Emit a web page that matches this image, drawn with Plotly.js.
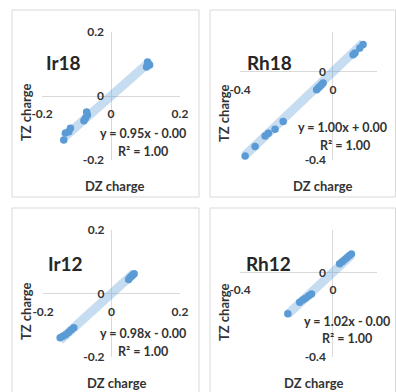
<!DOCTYPE html>
<html>
<head>
<meta charset="utf-8">
<script src="https://cdn.plot.ly/plotly-3.0.1.min.js"></script>
<style>html,body{margin:0;padding:0;background:#fff;}#chart{width:396px;height:392px;}</style>
</head>
<body>
<div id="chart"></div>
<script>
// ---- data ----
const panelNames = ["Ir18", "Rh18", "Ir12", "Rh12"];

const dzIr18 = [0.106, 0.112, 0.103, 0.109, -0.0706, -0.0685, -0.0735, -0.0785, -0.1176, -0.1226, -0.132, -0.137];
const tzIr18 = [0.106, 0.097, 0.091, 0.100, -0.050, -0.059, -0.069, -0.077, -0.101, -0.1116, -0.116, -0.1375];

const dzRh18 = [0.130, 0.116, 0.095, 0.087, -0.042, -0.049, -0.056, -0.063, -0.070, -0.214, -0.249, -0.278, -0.292, -0.335, -0.378];
const tzRh18 = [0.123, 0.108, 0.085, 0.077, -0.051, -0.059, -0.067, -0.074, -0.082, -0.226, -0.261, -0.279, -0.291, -0.339, -0.382];

const dzIr12 = [0.050, 0.054, 0.058, 0.062, 0.066, -0.110, -0.118, -0.126, -0.134, -0.142, -0.150];
const tzIr12 = [0.044, 0.050, 0.054, 0.058, 0.062, -0.108, -0.115, -0.123, -0.130, -0.135, -0.139];

const dzRh12 = [0.029, 0.040, 0.050, 0.060, 0.070, 0.080, -0.092, -0.105, -0.118, -0.130, -0.143, -0.194];
const tzRh12 = [0.040, 0.050, 0.060, 0.069, 0.078, 0.087, -0.102, -0.112, -0.122, -0.131, -0.141, -0.196];

const slopes = [0.95, 1.00, 0.98, 1.02];
const intercepts = [0.00, 0.00, 0.00, 0.00];
const equations = ["y = 0.95x - 0.00", "y = 1.00x + 0.00", "y = 0.98x - 0.00", "y = 1.02x - 0.00"];
const r2Labels = ["R² = 1.00", "R² = 1.00", "R² = 1.00", "R² = 1.00"];

const irTickVals = [-0.2, 0, 0.2];
const irTickText = ["-0.2", "0", "0.2"];
const rhTickVals = [-0.4, 0];
const rhTickText = ["-0.4", "0"];

const xTitle = "DZ charge";
const yTitle = "TZ charge";

// ---- layout helpers ----
const W = 396, H = 392;
const px = v => v / W;
const py = v => 1 - v / H;

const dzAll = [dzIr18, dzRh18, dzIr12, dzRh12];
const tzAll = [tzIr18, tzRh18, tzIr12, tzRh12];

const panels = [
  {xd: [42, 180], yd: [32, 160], xr: [-0.2, 0.2], yr: [-0.2, 0.2], tv: irTickVals, tt: irTickText,
   name: [63, 63], eq: [143, 133], r2: [143, 151], yt: [26, 112], xt: [114, 186], box: [12, 10, 199, 197]},
  {xd: [240, 377], yd: [32, 160], xr: [-0.4, 0.19], yr: [-0.4, 0.18], tv: rhTickVals, tt: rhTickText,
   name: [269, 63], eq: [342, 128], r2: [345, 145], yt: [224, 113], xt: [322, 186], box: [210, 10, 395.5, 197]},
  {xd: [43, 180], yd: [230, 357], xr: [-0.2, 0.2], yr: [-0.2, 0.2], tv: irTickVals, tt: irTickText,
   name: [65, 263], eq: [143, 333], r2: [143, 351], yt: [26, 311], xt: [116, 383], box: [12, 208, 199, 400]},
  {xd: [240, 377], yd: [230, 357], xr: [-0.4, 0.19], yr: [-0.4, 0.2], tv: rhTickVals, tt: rhTickText,
   name: [268, 263], eq: [347, 321], r2: [347, 338], yt: [224, 312], xt: [313, 383], box: [210, 208, 395.5, 400]}
];

const FONT = "Lato, 'Open Sans', sans-serif";
const TXT = "#333333";
const traces = [];
const layout = {
  width: W, height: H,
  margin: {l: 0, r: 0, t: 0, b: 0},
  paper_bgcolor: "#ffffff", plot_bgcolor: "rgba(0,0,0,0)",
  showlegend: false, hovermode: false,
  shapes: [], annotations: []
};

panels.forEach((p, i) => {
  const n = i + 1;
  const xa = n === 1 ? "x" : "x" + n;
  const ya = n === 1 ? "y" : "y" + n;
  const xKey = n === 1 ? "xaxis" : "xaxis" + n;
  const yKey = n === 1 ? "yaxis" : "yaxis" + n;
  const xDom = [px(p.xd[0]), px(p.xd[1])];
  const yDom = [py(p.yd[1]), py(p.yd[0])];
  const xZero = xDom[0] + (0 - p.xr[0]) / (p.xr[1] - p.xr[0]) * (xDom[1] - xDom[0]);
  const yZero = yDom[0] + (0 - p.yr[0]) / (p.yr[1] - p.yr[0]) * (yDom[1] - yDom[0]);
  const tickfont = {family: FONT, size: 12, color: TXT, weight: "bold"};

  layout[xKey] = {
    domain: xDom, range: p.xr, anchor: "free", position: yZero,
    tickmode: "array", tickvals: p.tv, ticktext: p.tt,
    showgrid: true, gridcolor: "#D9D9D9", gridwidth: 1,
    zeroline: false, showline: false, ticks: "", tickfont: tickfont,
    ticklabelstandoff: 9, fixedrange: true
  };
  layout[yKey] = {
    domain: yDom, range: p.yr, anchor: "free", position: xZero,
    tickmode: "array", tickvals: p.tv, ticktext: p.tt,
    showgrid: true, gridcolor: "#D9D9D9", gridwidth: 1,
    zeroline: false, showline: false, ticks: "", tickfont: tickfont,
    ticklabelstandoff: 7, fixedrange: true
  };

  const dz = dzAll[i], tz = tzAll[i];
  const xmin = Math.min(...dz), xmax = Math.max(...dz);
  traces.push({
    x: [xmin, xmax],
    y: [slopes[i] * xmin + intercepts[i], slopes[i] * xmax + intercepts[i]],
    xaxis: xa, yaxis: ya, mode: "lines", type: "scatter",
    line: {color: "rgba(91,155,213,0.35)", width: 9},
    hoverinfo: "skip"
  });
  traces.push({
    x: dz, y: tz, xaxis: xa, yaxis: ya, mode: "markers", type: "scatter",
    marker: {color: "#5B9BD5", size: 7.5, line: {width: 0}}
  });

  layout.shapes.push({
    type: "rect", xref: "paper", yref: "paper", layer: "below",
    x0: px(p.box[0]), x1: px(p.box[2]), y0: py(p.box[3]), y1: py(p.box[1]),
    line: {color: "#D9D9D9", width: 1}, fillcolor: "rgba(0,0,0,0)"
  });

  const ann = (text, pos, size, extra) => Object.assign({
    text: text, xref: "paper", yref: "paper", x: px(pos[0]), y: py(pos[1]),
    xanchor: "center", yanchor: "middle", showarrow: false,
    font: {family: FONT, size: size, color: TXT, weight: "bold"}
  }, extra || {});

  layout.annotations.push(ann(panelNames[i], p.name, 19, {font: {family: FONT, size: 19, color: "#262626", weight: "bold"}}));
  layout.annotations.push(ann(equations[i], p.eq, 12.5));
  layout.annotations.push(ann(r2Labels[i], p.r2, 12.5));
  layout.annotations.push(ann(yTitle, p.yt, 13, {textangle: -90}));
  layout.annotations.push(ann(xTitle, p.xt, 13));
});

Plotly.newPlot("chart", traces, layout, {displayModeBar: false, staticPlot: true});
</script>
</body>
</html>
